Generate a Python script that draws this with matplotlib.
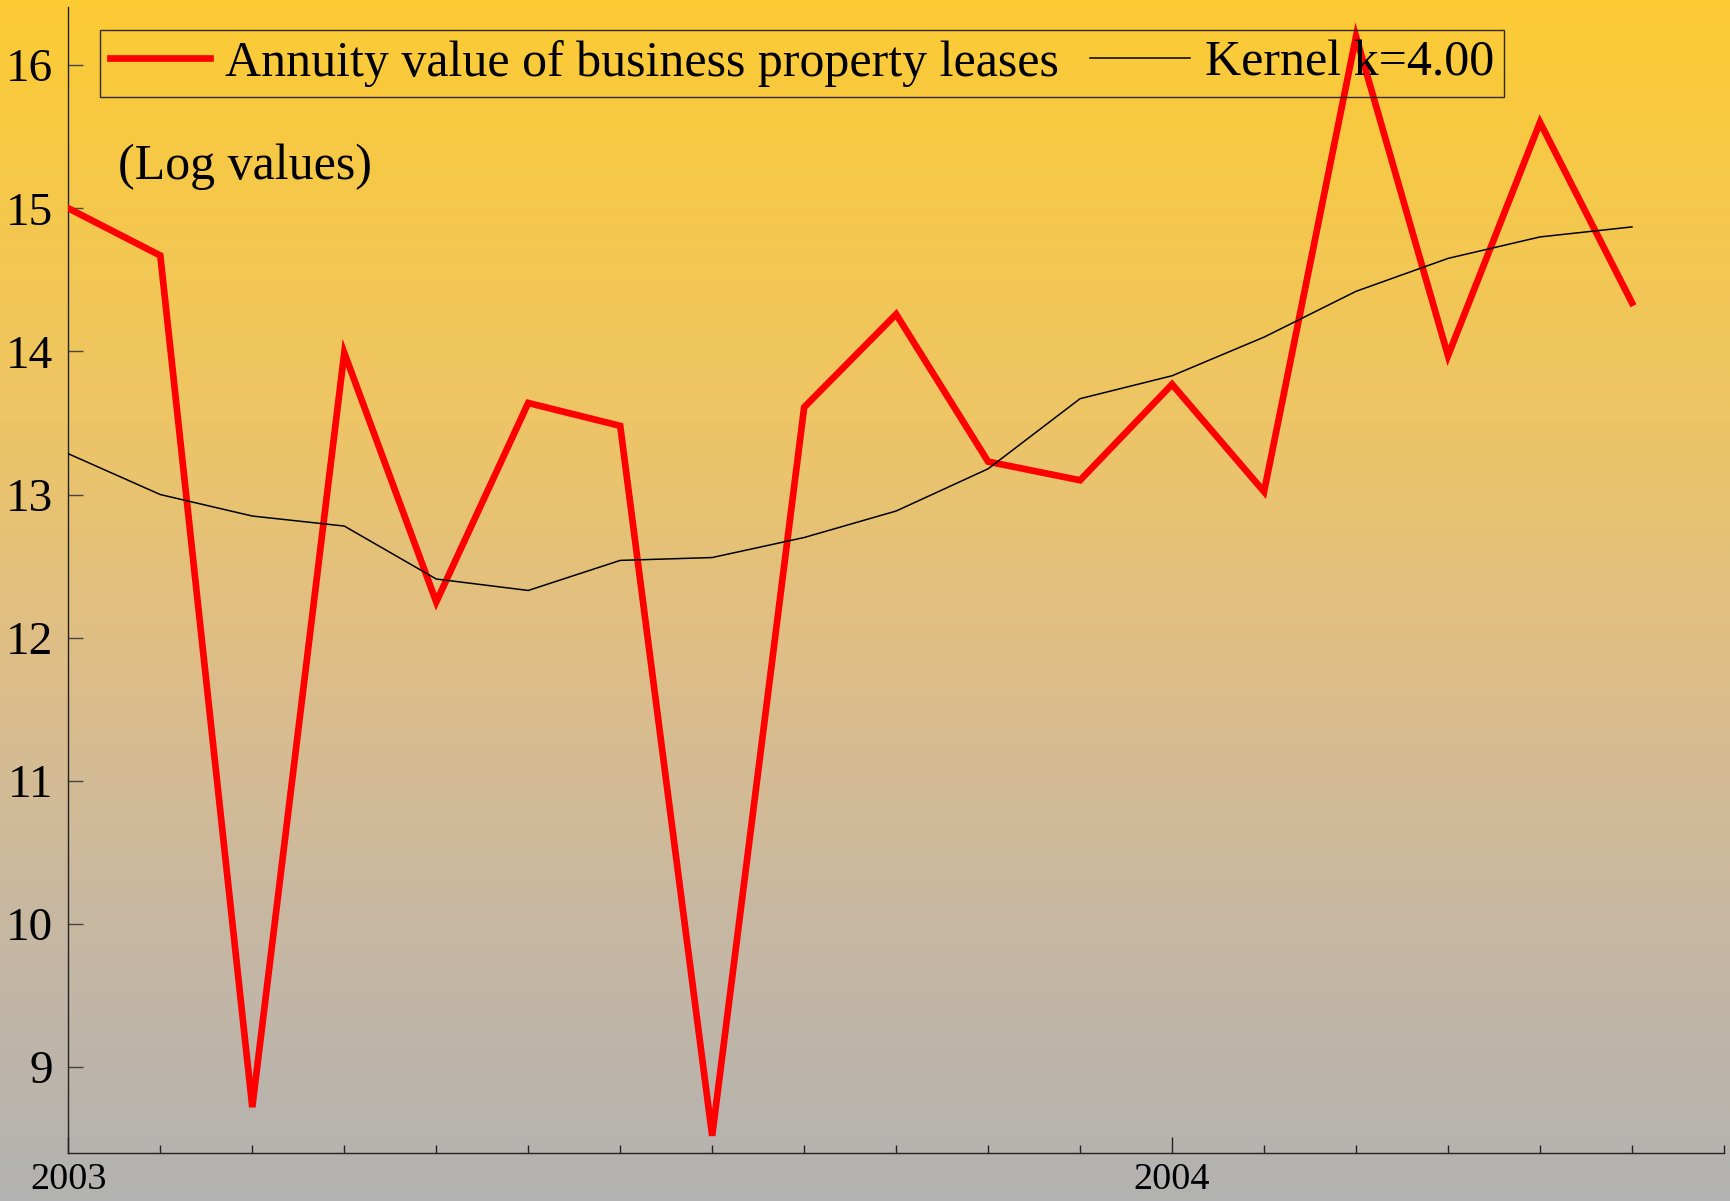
import numpy as np
import matplotlib
matplotlib.use("Agg")
import matplotlib.pyplot as plt
from matplotlib.colors import LinearSegmentedColormap

# ── Data (monthly, Jan 2003 – Jun 2004) ──────────────────────────────────────
MONTHS = ["2003-01", "2003-02", "2003-03", "2003-04", "2003-05", "2003-06",
          "2003-07", "2003-08", "2003-09", "2003-10", "2003-11", "2003-12",
          "2004-01", "2004-02", "2004-03", "2004-04", "2004-05", "2004-06"]

ANNUITY = [15.00, 14.67, 8.72, 13.99, 12.25, 13.64, 13.48, 8.52, 13.61,
           14.26, 13.23, 13.10, 13.77, 13.02, 16.20, 13.97, 15.60, 14.34]

KERNEL = [13.285, 13.00, 12.85, 12.78, 12.41, 12.33, 12.54, 12.56, 12.70,
          12.885, 13.18, 13.67, 13.83, 14.10, 14.42, 14.65, 14.80, 14.87]

YEAR_LABELS = {"2003-01": "2003", "2004-01": "2004"}

# ── Figure ───────────────────────────────────────────────────────────────────
plt.rcParams["font.family"] = ["Liberation Serif", "DejaVu Serif"]

fig = plt.figure(figsize=(17.30, 12.01), dpi=100)

# gradient background (gold at top -> grey at bottom)
bg = fig.add_axes([0, 0, 1, 1], zorder=0)
grad_cmap = LinearSegmentedColormap.from_list(
    "bg", [(0.0, "#FCCB33"), (0.35, "#EDC566"), (0.55, "#DEBE88"),
           (0.75, "#C9B8A0"), (1.0, "#B2B2B2")])
bg.imshow(np.linspace(0, 1, 256).reshape(-1, 1), aspect="auto", cmap=grad_cmap,
          extent=[0, 1, 0, 1])
bg.set_axis_off()

ax = fig.add_axes([0.0395, 0.040, 0.957, 0.954], zorder=1)
ax.patch.set_alpha(0)

x = np.arange(len(MONTHS))
ax.plot(x, ANNUITY, color="#FF0000", linewidth=4.8, solid_joinstyle="miter",
        label="Annuity value of business property leases", zorder=3)
ax.plot(x, KERNEL, color="black", linewidth=1.1, label="Kernel k=4.00", zorder=4)

ax.set_xlim(0, len(MONTHS))
ax.set_ylim(8.4, 16.405)

# x ticks: every month, years labelled
major = [i for i, m in enumerate(MONTHS) if m in YEAR_LABELS]
ax.set_xticks(major)
ax.set_xticklabels([YEAR_LABELS[MONTHS[i]] for i in major])
ax.set_xticks([i for i in range(len(MONTHS) + 1) if i not in major], minor=True)
ax.tick_params(axis="x", which="major", direction="in", length=11.5, width=1,
               color="#222222", labelsize=27.5, pad=7)
ax.tick_params(axis="x", which="minor", direction="in", length=6, width=1,
               color="#222222")

ax.set_yticks(range(9, 17))
ax.tick_params(axis="y", direction="in", length=11, width=1, color="#444444",
               labelsize=34, pad=11)

for side in ("top", "right"):
    ax.spines[side].set_visible(False)
for side in ("left", "bottom"):
    ax.spines[side].set_color("#222222")
    ax.spines[side].set_linewidth(1.0)

leg = ax.legend(loc="upper left", bbox_to_anchor=(100 / 1730, 1 - 30 / 1201),
                bbox_transform=fig.transFigure, ncol=2, fontsize=36,
                frameon=True, fancybox=False, borderaxespad=0, borderpad=0.2,
                handlelength=2.0, handletextpad=0.3, columnspacing=0.62)
leg.get_frame().set_facecolor("none")
leg.get_frame().set_edgecolor("black")
leg.get_frame().set_linewidth(1.0)

fig.text(118 / 1730, 1 - 167 / 1201, "(Log values)", fontsize=36,
         ha="left", va="center")

fig.savefig("out.png", dpi=100)
